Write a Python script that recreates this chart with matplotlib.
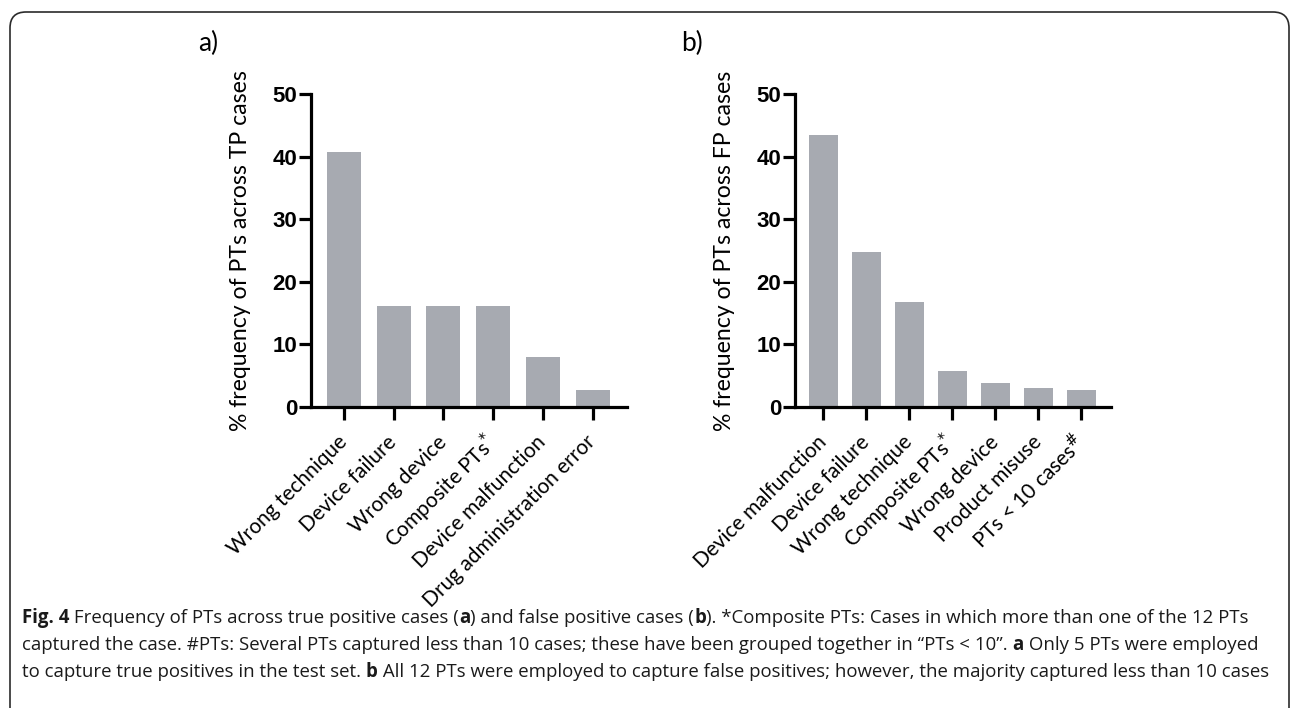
import matplotlib
matplotlib.use("Agg")
import matplotlib.pyplot as plt
from matplotlib.patches import FancyBboxPatch

# data
tp_labels = ["Wrong technique", "Device failure", "Wrong device",
             "Composite PTs$^{*}$", "Device malfunction", "Drug administration error"]
tp_values = [40.7, 16.1, 16.1, 16.1, 8.0, 2.65]

fp_labels = ["Device malfunction", "Device failure", "Wrong technique",
             "Composite PTs$^{*}$", "Wrong device", "Product misuse", "PTs < 10 cases$^{\\#}$"]
fp_values = [43.4, 24.8, 16.7, 5.7, 3.8, 3.0, 2.65]

yticks = [0, 10, 20, 30, 40, 50]

label_font = "Lato"
caption_font = "Open Sans"
bar_color = "#a7aab1"

fig = plt.figure(figsize=(12.92, 7.08), dpi=100)
W, H = 1292, 708


def panel(rect, labels, values, ylabel):
    ax = fig.add_axes(rect)
    x = list(range(len(values)))
    ax.bar(x, values, width=0.68, color=bar_color, zorder=1)
    ax.set_xlim(-0.66, len(values) - 1 + 0.69)
    ax.set_ylim(0, 50)
    for s in ["top", "right"]:
        ax.spines[s].set_visible(False)
    for s in ["left", "bottom"]:
        ax.spines[s].set_linewidth(2.3)
        ax.spines[s].set_zorder(3)
    ax.set_yticks(yticks)
    ax.set_yticklabels([str(t) for t in yticks], fontfamily="Liberation Sans",
                       fontweight="bold", fontsize=16)
    ax.set_xticks(x)
    ax.set_xticklabels(labels, rotation=45, ha="right", va="center",
                       rotation_mode="anchor", fontfamily=label_font, fontsize=15)
    ax.tick_params(axis="both", width=2.3, length=9, direction="out", color="black")
    ax.tick_params(axis="x", pad=14)
    ax.tick_params(axis="y", pad=1)
    ax.set_ylabel(ylabel, fontfamily=label_font, fontsize=16.6)
    ax.yaxis.set_label_coords(-0.19, 0.5)
    return ax


ax1 = panel([311 / W, 1 - 407 / H, 316 / W, 313 / H], tp_labels, tp_values,
            "% frequency of PTs across TP cases")
ax2 = panel([795 / W, 1 - 407 / H, 316 / W, 313 / H], fp_labels, fp_values,
            "% frequency of PTs across FP cases")

fig.text(208 / W, 1 - 43 / H, "a)", fontfamily=label_font, fontsize=19,
         ha="center", va="center")
fig.text(692 / W, 1 - 43 / H, "b)", fontfamily=label_font, fontsize=19,
         ha="center", va="center")

# rounded frame around the figure
frame = FancyBboxPatch((10, -40), 1279, 736, boxstyle="round,pad=0,rounding_size=16",
                       transform=None, fill=False, edgecolor="#2b2b2b", linewidth=1.2)
fig.patches.append(frame)

# caption, drawn piece by piece so some words can be bold
caption = [
    [("Fig. 4", True), (" Frequency of PTs across true positive cases (", False), ("a", True),
     (") and false positive cases (", False), ("b", True),
     ("). *Composite PTs: Cases in which more than one of the 12 PTs", False)],
    [("captured the case. #PTs: Several PTs captured less than 10 cases; these have been grouped together in \u201cPTs < 10\u201d. ", False),
     ("a", True), (" Only 5 PTs were employed", False)],
    [("to capture true positives in the test set. ", False), ("b", True),
     (" All 12 PTs were employed to capture false positives; however, the majority captured less than 10 cases", False)],
]
line_y = [618, 645, 672]
x0 = 22
target_last = 1262

fig.canvas.draw()
renderer = fig.canvas.get_renderer()


def line_width(parts, size):
    total = 0
    for txt, bold in parts:
        t = fig.text(0, 0, txt, fontfamily=caption_font, fontsize=size,
                     fontweight="bold" if bold else "normal")
        total += t.get_window_extent(renderer).width
        t.remove()
    return total


size = 12.0
size = size * (target_last - x0) / line_width(caption[2], size)

for parts, yy in zip(caption, line_y):
    xx = x0
    for txt, bold in parts:
        t = fig.text(xx / W, 1 - yy / H, txt, fontfamily=caption_font, fontsize=size,
                     fontweight="bold" if bold else "normal", va="center", ha="left",
                     color="#1a1a1a")
        xx += t.get_window_extent(renderer).width

fig.savefig("out.png", dpi=100)
